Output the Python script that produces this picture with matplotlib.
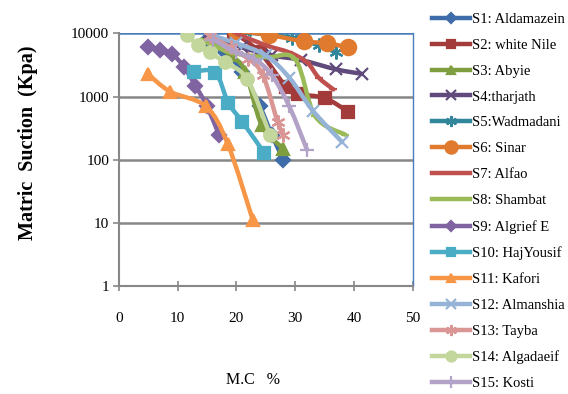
"""Soil-water characteristic curves: matric suction vs moisture content."""

import numpy as np
import matplotlib.pyplot as plt
from matplotlib.lines import Line2D
from matplotlib.patches import PathPatch
from matplotlib.path import Path

SERIF = "Liberation Serif"

# moisture content (%) and matric suction (kPa)
s1_mc = [15, 18, 21, 24, 26, 28]
s1_kpa = [8000, 5000, 2500, 700, 250, 100]
s2_mc = [19.5, 24, 28.5, 30.5, 35, 39]
s2_kpa = [10500, 5000, 1400, 1100, 950, 580]
s3_mc = [16, 19, 21.5, 24.3, 28]
s3_kpa = [7000, 4500, 2500, 350, 150]
s4_mc = [15, 21, 26, 31, 37, 41.3]
s4_kpa = [9500, 6000, 4500, 3800, 2700, 2300]
s5_mc = [21.5, 25.5, 29.5, 34, 37]
s5_kpa = [10500, 9500, 8500, 6500, 5000]
s6_mc = [20, 25.5, 31.5, 35.5, 39]
s6_kpa = [11000, 9500, 7500, 7000, 6000]
s7_mc = [20, 25, 29, 32, 34, 36.5]
s7_kpa = [10000, 6500, 5000, 3500, 2000, 1300]
s8_mc = [14, 19, 25, 30, 33.4, 38.5]
s8_kpa = [8000, 5000, 4200, 3900, 490, 250]
s9_mc = [5, 7, 9, 11, 13, 15, 17]
s9_kpa = [6000, 5500, 4800, 3000, 1500, 700, 250]
s10_mc = [12.8, 16.4, 18.6, 21, 24.7]
s10_kpa = [2500, 2400, 800, 400, 130]
s11_mc = [4.9, 8.7, 14.8, 18.5, 22.8]
s11_kpa = [2300, 1200, 700, 180, 11]
s12_mc = [15.5, 20, 25, 29, 33, 38]
s12_kpa = [9500, 7000, 4500, 2000, 600, 190]
s13_mc = [15.5, 19, 22, 24.5, 27, 28]
s13_kpa = [9000, 6000, 4000, 2200, 400, 250]
s14_mc = [11.5, 13.5, 15.5, 18, 21.8, 25.7]
s14_kpa = [9500, 6500, 5000, 3500, 1900, 250]
s15_mc = [16, 20, 23, 26, 29, 32]
s15_kpa = [8000, 5000, 4000, 2200, 700, 145]

labels = [
    "S1: Aldamazein", "S2: white Nile", "S3: Abyie", "S4:tharjath",
    "S5:Wadmadani", "S6: Sinar", "S7: Alfao", "S8: Shambat",
    "S9: Algrief E", "S10: HajYousif", "S11: Kafori", "S12: Almanshia",
    "S13: Tayba", "S14: Algadaeif", "S15: Kosti",
]
mc_series = [s1_mc, s2_mc, s3_mc, s4_mc, s5_mc, s6_mc, s7_mc, s8_mc,
             s9_mc, s10_mc, s11_mc, s12_mc, s13_mc, s14_mc, s15_mc]
kpa_series = [s1_kpa, s2_kpa, s3_kpa, s4_kpa, s5_kpa, s6_kpa, s7_kpa, s8_kpa,
              s9_kpa, s10_kpa, s11_kpa, s12_kpa, s13_kpa, s14_kpa, s15_kpa]

COLORS = [
    "#3e6ca8", "#a33b3a", "#7f9e3f", "#604a7b", "#31869b", "#e07a2e",
    "#c0504d", "#9bbb59", "#8064a2", "#4bacc6", "#f79646", "#95b3d7",
    "#d99694", "#c3d69b", "#b3a2c7",
]
ASTERISK = (6, 2, 0)
MARKERS = ["D", "s", "^", "x", ASTERISK, "o", "_", "_",
           "D", "s", "^", "x", ASTERISK, "o", "+"]
SIZES = [7, 8, 8, 9, 10, 11, 6, 6, 7, 8, 8, 9, 10, 9, 10]
LINE_W = 3.2


def smooth_path(xs, ys):
    """Excel-style smoothed line: cubic Bezier through the points (log y)."""
    pts = np.column_stack([np.asarray(xs, float), np.log10(ys)])
    n = len(pts)
    verts = [pts[0]]
    codes = [Path.MOVETO]
    for i in range(n - 1):
        prev_pt = pts[max(i - 1, 0)]
        next_pt = pts[min(i + 2, n - 1)]
        c1 = pts[i] + (pts[i + 1] - prev_pt) / 6.0
        c2 = pts[i + 1] - (next_pt - pts[i]) / 6.0
        verts += [c1, c2, pts[i + 1]]
        codes += [Path.CURVE4] * 3
    verts = np.array(verts)
    verts[:, 1] = 10 ** verts[:, 1]
    return Path(verts, codes)


fig = plt.figure(figsize=(5.68, 3.94), dpi=100)
ax = fig.add_axes([0.2095, 0.274, 0.517, 0.641])

handles = []
for k, (mc, kpa, label, color, marker, size) in enumerate(zip(
    mc_series, kpa_series, labels, COLORS, MARKERS, SIZES
)):
    z = 2 + k * 0.1
    ax.add_patch(PathPatch(smooth_path(mc, kpa), facecolor="none",
                           edgecolor=color, lw=LINE_W, capstyle="round",
                           joinstyle="round", zorder=z))
    ax.plot(mc, kpa, ls="none", marker=marker, markersize=size,
            markerfacecolor=color, markeredgecolor=color,
            markeredgewidth=1.6, zorder=z + 0.05)
    handles.append(Line2D([], [], color=color, lw=LINE_W, marker=marker,
                          markersize=size * 0.8, markerfacecolor=color,
                          markeredgecolor=color, markeredgewidth=1.6,
                          label=label))

ax.set_yscale("log")
ax.set_ylim(1, 10000)
ax.set_xlim(0, 50)
ax.set_xticks([0, 10, 20, 30, 40, 50])
ax.set_yticks([1, 10, 100, 1000, 10000])
ax.set_yticklabels(["1", "10", "100", "1000", "10000"])
ax.yaxis.set_minor_locator(plt.NullLocator())

for val in [10, 100, 1000]:
    ax.axhline(val, color="#878787", lw=1.8, zorder=0)
ax.axhline(10000, color="#4a7ebb", lw=1.8, zorder=0)

ax.spines["top"].set_visible(False)
ax.spines["right"].set_color("#4a7ebb")
ax.spines["right"].set_linewidth(1.0)
for side in ["left", "bottom"]:
    ax.spines[side].set_color("#878787")
    ax.spines[side].set_linewidth(1.5)

ax.tick_params(axis="x", direction="inout", length=7, width=1.2,
               color="#878787", pad=15)
ax.tick_params(axis="y", direction="out", length=4, width=1.2,
               color="#878787", pad=3)
for lab in ax.get_xticklabels() + ax.get_yticklabels():
    lab.set_fontfamily(SERIF)
    lab.set_fontsize(11)

fig.text(0.049, 0.637, "Matric  Suction  (Kpa)", rotation=90, ha="center",
         va="center", family=SERIF, fontweight="bold", fontsize=14.5)
fig.text(0.446, 0.036, "M.C   %", ha="center", va="center",
         family=SERIF, fontsize=11.5)

fig.legend(handles=handles, loc="upper left", bbox_to_anchor=(0.745, 0.99),
           prop={"family": SERIF, "size": 10.5}, frameon=False,
           handlelength=2.6, handletextpad=0.15, labelspacing=0.87,
           borderaxespad=0.2)

fig.savefig("out.png", dpi=100)
